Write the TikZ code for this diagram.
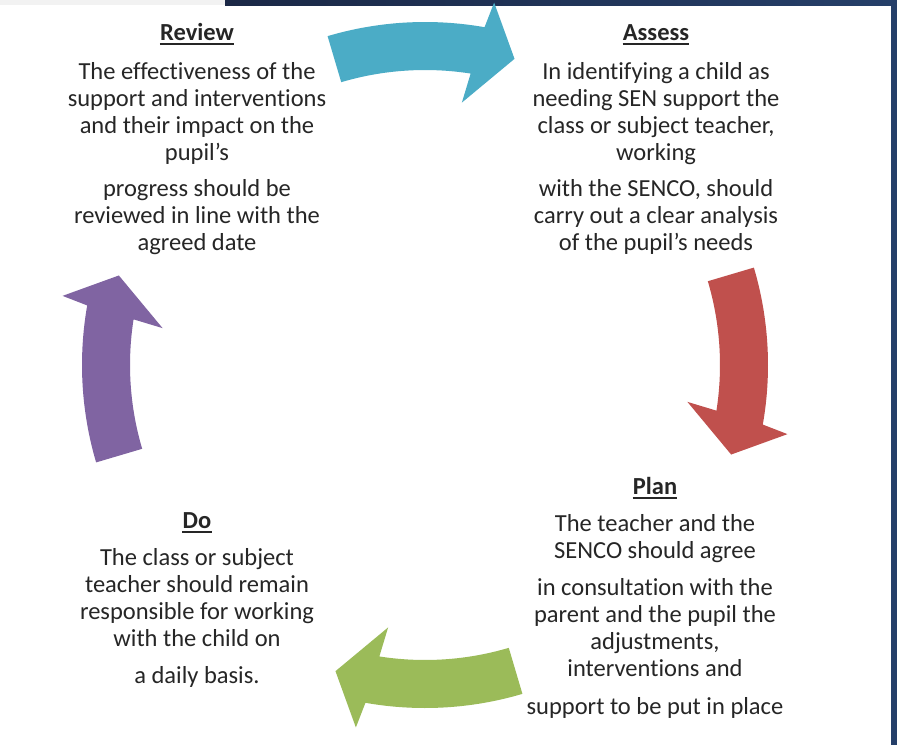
\documentclass[tikz,border=0pt]{standalone}
\usepackage{fontspec}
\setmainfont{Carlito}[Ligatures=NoCommon, Contextuals=NoAlternate]
\usetikzlibrary{calc}
\definecolor{txt}{HTML}{262626}
\definecolor{navyA}{HTML}{1B2846}
\definecolor{navyB}{HTML}{253F69}
\definecolor{arrBlue}{HTML}{4BACC6}
\definecolor{arrRed}{HTML}{C0504D}
\definecolor{arrGreen}{HTML}{9BBB59}
\definecolor{arrPurple}{HTML}{8064A2}
\newcommand\blocklines[1]{\begin{tabular}[t]{@{}c@{}}#1\end{tabular}}
\newcommand\cyclearrow[2]{%
  \fill[#1] ($(ctr)+(#2:343)$) arc[start angle=#2, delta angle=-26.5, radius=343]
    -- ($(ctr)+({#2-27.3}:369)$) -- ($(ctr)+({#2-32.8}:319)$)
    -- ($(ctr)+({#2-24.5}:265)$) -- ($(ctr)+({#2-25.4}:295)$)
    arc[start angle={#2-25.4}, delta angle=25.4, radius=295] -- cycle;}
\tikzset{
  body/.style={inner sep=0pt, text=txt, anchor=base, font=\fontsize{24.5}{27}\selectfont},
  title/.style={inner sep=0pt, text=txt, anchor=base, font=\fontsize{24.5}{27}\selectfont\bfseries},
  uline/.style={draw=txt, line width=1.8pt}
}
\begin{document}
\begin{tikzpicture}[x=1pt,y=1pt]
\useasboundingbox (0,0) rectangle (897,-745);
\fill[white] (0,0) rectangle (897,-745);
\fill[black!5] (0,0) rectangle (225,-5);
\shade[left color=navyA, right color=navyB] (225,0) rectangle (897,-5);
\fill[navyB] (891,0) rectangle (897,-745);
\coordinate (ctr) at (425,-365);
% arrows
\cyclearrow{arrBlue}{106.5}
\cyclearrow{arrRed}{16.5}
\cyclearrow{arrGreen}{-73.5}
\cyclearrow{arrPurple}{196.5}
% Review
\node[title] (revt) at (197,-40) {Review};
\draw[uline] ([yshift=-4pt]revt.south west) -- ([yshift=-4pt]revt.south east);
\node[body] (revb) at (197,-79) {\blocklines{The effectiveness of the\\support and interventions\\and their impact on the\\pupil’s\\[9pt]progress should be\\reviewed in line with the\\agreed date}};
% Assess
\node[title] (asst) at (656,-40) {Assess};
\draw[uline] ([yshift=-4pt]asst.south west) -- ([yshift=-4pt]asst.south east);
\node[body] (assb) at (656,-79) {\blocklines{In identifying a child as\\needing SEN support the\\class or subject teacher,\\working\\[9pt]with the SENCO, should\\carry out a clear analysis\\of the pupil’s needs}};
% Plan
\node[title] (plant) at (655,-494) {Plan};
\draw[uline] ([yshift=-4pt]plant.south west) -- ([yshift=-4pt]plant.south east);
\node[body] (planb) at (655,-531) {\blocklines{The teacher and the\\SENCO should agree\\[10pt]in consultation with the\\parent and the pupil the\\adjustments,\\interventions and\\[11pt]support to be put in place}};
% Do
\node[title] (dot) at (197,-528) {Do};
\draw[uline] ([yshift=-4pt]dot.south west) -- ([yshift=-4pt]dot.south east);
\node[body] (dob) at (197,-565) {\blocklines{The class or subject\\teacher should remain\\responsible for working\\with the child on\\[10pt]a daily basis.}};
\end{tikzpicture}
\end{document}
